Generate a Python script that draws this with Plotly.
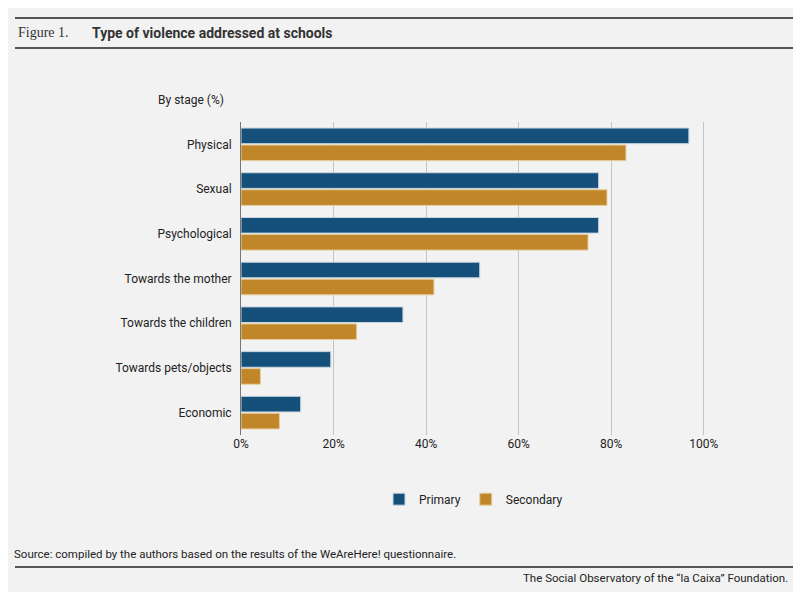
import plotly.graph_objects as go

categories = ['Physical', 'Sexual', 'Psychological', 'Towards the mother',
              'Towards the children', 'Towards pets/objects', 'Economic']
primary = [96.8, 77.3, 77.3, 51.6, 35.0, 19.4, 12.9]
secondary = [83.2, 79.1, 75.0, 41.7, 25.0, 4.2, 8.3]
tick_vals = [0, 20, 40, 60, 80, 100]
tick_text = ['0%', '20%', '40%', '60%', '80%', '100%']

bg = '#f2f2f2'
fig = go.Figure()
fig.add_trace(go.Bar(y=categories, x=primary, name='Primary', orientation='h',
                     marker=dict(color='#14507a', line=dict(color='#c9d6e0', width=1))))
fig.add_trace(go.Bar(y=categories, x=secondary, name='Secondary', orientation='h',
                     marker=dict(color='#c08629', line=dict(color='#e6cf9e', width=1))))

# page has an 8px body margin, so the figure is offset by 8px
fig.update_layout(
    width=793, height=584, paper_bgcolor=bg, plot_bgcolor=bg,
    margin=dict(l=233, r=95, t=114, b=157),
    barmode='group', bargap=0.24, bargroupgap=0.08,
    font=dict(family='Roboto', size=12, color='#222'),
    showlegend=True,
    legend=dict(orientation='h', x=0.5, xanchor='center', y=-0.205, yanchor='middle',
                font=dict(size=12), traceorder='normal'),
    xaxis=dict(range=[0, 100.5], tickvals=tick_vals, ticktext=tick_text,
               showgrid=True, gridcolor='#c4c4c4', gridwidth=1, zeroline=False,
               showline=False, ticks='', tickfont=dict(size=12)),
    yaxis=dict(autorange='reversed', showgrid=False, ticks='', showline=True,
               linecolor='#777', linewidth=1, ticksuffix='  ', tickfont=dict(size=12)),
)

def py(y):
    return 1 + (122 - y) / 313

def px(x):
    return (x - 241) / 465

for y in [18, 48, 567]:
    fig.add_shape(type='line', xref='paper', yref='paper', x0=px(15), x1=px(795),
                  y0=py(y), y1=py(y), line=dict(color='#555', width=2))
fig.add_annotation(text='Figure 1.', xref='paper', yref='paper', x=px(16), y=py(33),
                   xanchor='left', yanchor='middle', showarrow=False,
                   font=dict(family='Liberation Serif', size=14, color='#333'))
fig.add_annotation(text='<b>Type of violence addressed at schools</b>', xref='paper', yref='paper',
                   x=px(90), y=py(33), xanchor='left', yanchor='middle',
                   showarrow=False, font=dict(family='Roboto', size=14, color='#333'))
fig.add_annotation(text='By stage (%)', xref='paper', yref='paper', x=px(156), y=py(100),
                   xanchor='left', yanchor='middle', showarrow=False, font=dict(size=12))
fig.add_annotation(text='Source: compiled by the authors based on the results of the WeAreHere! questionnaire.',
                   xref='paper', yref='paper', x=px(12), y=py(554),
                   xanchor='left', yanchor='middle', showarrow=False, font=dict(size=11.5))
fig.add_annotation(text='The Social Observatory of the “la Caixa” Foundation.',
                   xref='paper', yref='paper', x=px(790), y=py(578),
                   xanchor='right', yanchor='middle', showarrow=False, font=dict(size=11.5))

fig.write_html('out.html')
